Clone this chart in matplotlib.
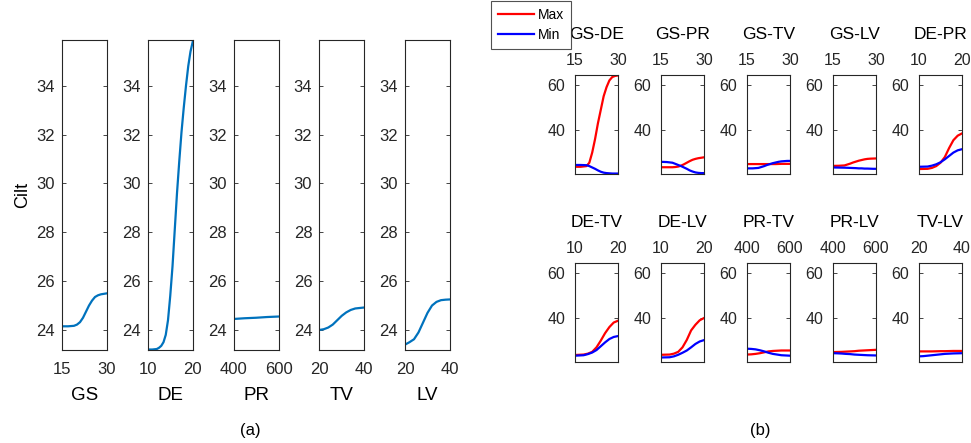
import matplotlib
matplotlib.use("Agg")
import matplotlib.pyplot as plt
from matplotlib.lines import Line2D

plt.rcParams['font.family'] = ['Liberation Sans', 'DejaVu Sans']

# ---- panel (a): single-factor effect on Cilt ----
a_names = ["GS", "DE", "PR", "TV", "LV"]
a_xlims = [(15, 30), (10, 20), (400, 600), (20, 40), (20, 40)]
a_x = [
    [15, 17, 19, 20, 21, 22, 23, 24, 25, 26, 27, 28, 29, 30],
    [10, 11, 12, 12.5, 13, 13.5, 14, 14.5, 15, 15.5, 16, 16.5, 17, 17.5, 18, 18.5, 19, 19.5, 20],
    [400, 450, 500, 550, 600],
    [20, 22, 24, 26, 28, 30, 32, 34, 36, 38, 40],
    [20, 22, 24, 26, 28, 30, 32, 34, 36, 38, 40],
]
a_y = [
    [24.15, 24.15, 24.17, 24.22, 24.32, 24.5, 24.75, 25.0, 25.2, 25.35, 25.42, 25.46, 25.48, 25.5],
    [23.2, 23.2, 23.22, 23.27, 23.35, 23.5, 23.8, 24.4, 25.4, 26.6, 28.1, 29.6, 30.9, 32.1, 33.1, 34.0, 34.8, 35.4, 35.8],
    [24.45, 24.48, 24.5, 24.53, 24.55],
    [24.0, 24.03, 24.1, 24.22, 24.4, 24.58, 24.72, 24.82, 24.88, 24.9, 24.92],
    [23.4, 23.5, 23.62, 23.9, 24.3, 24.7, 25.0, 25.15, 25.22, 25.24, 25.25],
]
a_ylim = (23.18, 35.87)
a_yticks = [24, 26, 28, 30, 32, 34]

# ---- panel (b): pairwise max/min ----
b_names = ["GS-DE", "GS-PR", "GS-TV", "GS-LV", "DE-PR",
           "DE-TV", "DE-LV", "PR-TV", "PR-LV", "TV-LV"]
b_xlims = [(15, 30), (15, 30), (15, 30), (15, 30), (10, 20),
           (10, 20), (10, 20), (400, 600), (400, 600), (20, 40)]
b_x = [
    [15, 17, 19, 20, 21, 22, 23, 24, 25, 26, 27, 28, 29, 30],
    [15, 17, 19, 20, 21, 22, 23, 24, 25, 26, 27, 28, 29, 30],
    [15, 17, 19, 20, 21, 22, 23, 24, 25, 26, 27, 28, 29, 30],
    [15, 17, 19, 20, 21, 22, 23, 24, 25, 26, 27, 28, 29, 30],
    [10, 11, 12, 13, 14, 15, 16, 17, 18, 19, 20],
    [10, 11, 12, 13, 14, 15, 16, 17, 18, 19, 20],
    [10, 11, 12, 13, 14, 15, 16, 17, 18, 19, 20],
    [400, 420, 440, 460, 480, 500, 520, 540, 560, 580, 600],
    [400, 420, 440, 460, 480, 500, 520, 540, 560, 580, 600],
    [20, 22, 24, 26, 28, 30, 32, 34, 36, 38, 40],
]
b_max = [
    [23.7, 23.7, 24.0, 25.5, 30.0, 36.0, 43.0, 49.0, 55.0, 59.0, 62.0, 63.5, 64.0, 64.2],
    [23.5, 23.5, 23.5, 23.6, 23.8, 24.2, 24.8, 25.5, 26.2, 26.8, 27.2, 27.5, 27.7, 27.9],
    [24.9, 24.9, 24.9, 24.9, 24.9, 24.9, 24.9, 24.9, 24.9, 24.95, 25.0, 25.0, 25.0, 25.0],
    [24.1, 24.15, 24.3, 24.7, 25.1, 25.6, 26.0, 26.4, 26.7, 27.0, 27.2, 27.3, 27.35, 27.4],
    [22.7, 22.75, 22.8, 23.2, 24.0, 25.5, 28.0, 32.0, 35.5, 37.5, 38.5],
    [23.6, 23.7, 23.8, 24.2, 25.0, 27.0, 30.0, 33.3, 36.0, 38.0, 38.8],
    [23.7, 23.75, 23.8, 24.2, 25.0, 27.0, 30.3, 34.5, 37.0, 39.0, 40.0],
    [23.8, 23.9, 24.1, 24.4, 24.8, 25.2, 25.4, 25.5, 25.6, 25.6, 25.6],
    [24.9, 24.95, 25.0, 25.1, 25.2, 25.3, 25.5, 25.6, 25.7, 25.8, 25.9],
    [25.2, 25.2, 25.2, 25.2, 25.25, 25.3, 25.3, 25.35, 25.4, 25.4, 25.4],
]
b_min = [
    [24.5, 24.5, 24.4, 24.0, 23.4, 22.8, 22.1, 21.5, 21.1, 20.9, 20.8, 20.7, 20.7, 20.7],
    [25.9, 25.8, 25.5, 25.0, 24.5, 24.0, 23.4, 22.8, 22.1, 21.6, 21.2, 21.0, 20.9, 20.9],
    [23.0, 23.0, 23.2, 23.6, 24.0, 24.5, 24.9, 25.3, 25.6, 25.9, 26.1, 26.2, 26.3, 26.3],
    [23.4, 23.35, 23.3, 23.25, 23.2, 23.15, 23.1, 23.0, 23.0, 22.9, 22.9, 22.85, 22.8, 22.8],
    [23.7, 23.75, 23.8, 24.2, 24.8, 25.7, 27.0, 28.5, 30.0, 31.0, 31.5],
    [23.3, 23.4, 23.5, 24.0, 24.7, 25.8, 27.5, 29.2, 30.7, 31.6, 32.0],
    [22.5, 22.55, 22.6, 23.0, 23.7, 24.6, 25.6, 27.0, 28.5, 29.6, 30.2],
    [26.4, 26.3, 26.1, 25.7, 25.2, 24.6, 24.1, 23.8, 23.5, 23.4, 23.3],
    [24.4, 24.35, 24.25, 24.1, 24.0, 23.8, 23.7, 23.6, 23.5, 23.45, 23.4],
    [23.0, 23.1, 23.3, 23.5, 23.7, 23.9, 24.1, 24.2, 24.3, 24.35, 24.4],
]
b_ylim = (20.5, 64.4)
b_yticks = [40, 60]

W, H = 971, 443
fig = plt.figure(figsize=(W / 100, H / 100), dpi=100)
frame = (0.15, 0.15, 0.15)


def rect(l, t, w, h):
    return [l / W, 1 - (t + h) / H, w / W, h / H]


def style(ax, size, xpad, ypad):
    for s in ax.spines.values():
        s.set_color(frame)
        s.set_linewidth(0.8)
    ax.tick_params(direction='in', length=3, width=0.6, colors=frame,
                   labelsize=size, labelcolor=(0.15, 0.15, 0.15), right=True)
    ax.tick_params(axis='x', pad=xpad)
    ax.tick_params(axis='y', pad=ypad)


for i in range(5):
    ax = fig.add_axes(rect(62 + i * 85.75, 40, 45, 310))
    ax.plot(a_x[i], a_y[i], color=(0, 0.447, 0.741), lw=1.6)
    ax.set_xlim(a_xlims[i])
    ax.set_xticks(list(a_xlims[i]))
    ax.set_ylim(a_ylim)
    ax.set_yticks(a_yticks)
    style(ax, 12, 9, 5)
    ax.set_xlabel(a_names[i], fontsize=13.5, labelpad=7)
    if i == 0:
        ax.set_ylabel("Cilt", fontsize=13, labelpad=4)

for i in range(10):
    row, col = divmod(i, 5)
    top = 75 if row == 0 else 263
    ax = fig.add_axes(rect(575 + col * 86, top, 43, 99))
    ax.plot(b_x[i], b_max[i], color='red', lw=1.6)
    ax.plot(b_x[i], b_min[i], color='blue', lw=1.6)
    ax.set_xlim(b_xlims[i])
    ax.set_xticks(list(b_xlims[i]))
    ax.set_ylim(b_ylim)
    ax.set_yticks(b_yticks)
    ax.xaxis.tick_top()
    style(ax, 11.5, 5, 7)
    ax.tick_params(top=True, bottom=True)
    ax.set_title(b_names[i], fontsize=12.5, pad=26)

fig.text(250 / W, 1 - 430 / H, "(a)", fontsize=12, ha='center', va='center')
fig.text(760 / W, 1 - 430 / H, "(b)", fontsize=12, ha='center', va='center')

handles = [Line2D([], [], color='red', lw=1.6), Line2D([], [], color='blue', lw=1.6)]
leg = fig.legend(handles, ["Max", "Min"], loc='upper right',
                 bbox_to_anchor=(571 / W, 1 - 1 / H), fontsize=10,
                 frameon=True, fancybox=False, handlelength=2.6,
                 handletextpad=0.3, borderpad=0.5, labelspacing=0.45,
                 borderaxespad=0)
leg.get_frame().set_edgecolor(frame)
leg.get_frame().set_linewidth(0.8)

fig.savefig("out.png", dpi=100)
